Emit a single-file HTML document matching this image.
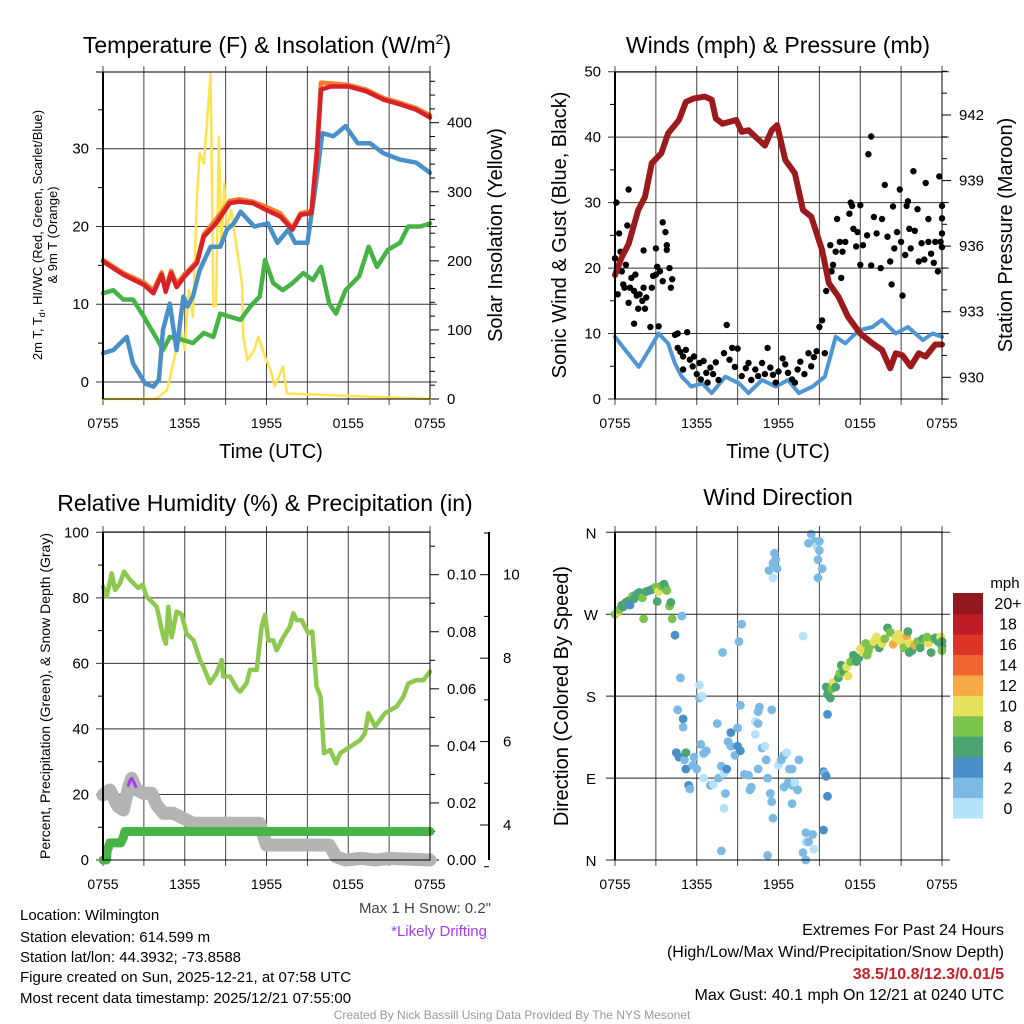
<!DOCTYPE html>
<html><head><meta charset="utf-8">
<style>
html,body{margin:0;padding:0;background:#fff;}
svg{display:block;font-family:"Liberation Sans",Arial,sans-serif;}
</style></head>
<body>
<svg id="chart" width="1024" height="1024" viewBox="0 0 1024 1024" xmlns="http://www.w3.org/2000/svg">
<rect x="0" y="0" width="1024" height="1024" fill="#fff"/>
<text x="267" y="53" font-size="23" text-anchor="middle">Temperature (F) &amp; Insolation (W/m<tspan font-size="14" dy="-9">2</tspan><tspan dy="9">)</tspan></text>
<text x="778" y="53" font-size="23" text-anchor="middle">Winds (mph) &amp; Pressure (mb)</text>
<text x="265" y="511" font-size="23" text-anchor="middle">Relative Humidity (%) &amp; Precipitation (in)</text>
<text x="778" y="505" font-size="23" text-anchor="middle">Wind Direction</text>

<text transform="translate(42,235) rotate(-90)" font-size="13" text-anchor="middle">2m T, T<tspan font-size="9" dy="3">d</tspan><tspan dy="-3">, HI/WC (Red, Green, Scarlet/Blue)</tspan></text>
<text transform="translate(57,235) rotate(-90)" font-size="13" text-anchor="middle">&amp; 9m T (Orange)</text>
<text transform="translate(502,235) rotate(-90)" font-size="20" text-anchor="middle">Solar Insolation (Yellow)</text>
<text transform="translate(566,235) rotate(-90)" font-size="20" text-anchor="middle">Sonic Wind &amp; Gust (Blue, Black)</text>
<text transform="translate(1012,235) rotate(-90)" font-size="20" text-anchor="middle">Station Pressure (Maroon)</text>
<text transform="translate(50,696) rotate(-90)" font-size="14" text-anchor="middle">Percent, Precipitation (Green), &amp; Snow Depth (Gray)</text>
<text transform="translate(568,696) rotate(-90)" font-size="20" text-anchor="middle">Direction (Colored By Speed)</text>
<text x="271" y="458" font-size="20" text-anchor="middle">Time (UTC)</text>
<text x="778" y="458" font-size="20" text-anchor="middle">Time (UTC)</text>

<text x="491" y="913" font-size="15" fill="#444" text-anchor="end">Max 1 H Snow: 0.2"</text>
<text x="487" y="936" font-size="15" fill="#a83cf0" text-anchor="end">*Likely Drifting</text>
<g font-size="15">
<text x="20" y="920">Location: Wilmington</text>
<text x="20" y="942">Station elevation: 614.599 m</text>
<text x="20" y="962">Station lat/lon: 44.3932; -73.8588</text>
<text x="20" y="982">Figure created on Sun, 2025-12-21, at 07:58 UTC</text>
<text x="20" y="1003">Most recent data timestamp: 2025/12/21 07:55:00</text>
</g>
<g font-size="16" text-anchor="end">
<text x="1004" y="935">Extremes For Past 24 Hours</text>
<text x="1004" y="957">(High/Low/Max Wind/Precipitation/Snow Depth)</text>
<text x="1004" y="979" fill="#c8202a" font-weight="bold">38.5/10.8/12.3/0.01/5</text>
<text x="1004" y="1000">Max Gust: 40.1 mph On 12/21 at 0240 UTC</text>
</g>
<text x="512" y="1019" font-size="12" fill="#999" text-anchor="middle">Created By Nick Bassill Using Data Provided By The NYS Mesonet</text>
</svg>
<script>
// ===== Data (hours since 0755 UTC) =====
const xTickLabels = ["0755","1355","1955","0155","0755"];
const redT = [0,1.5,3,3.7,4.3,4.6,5,5.4,6,6.9,7.4,8.3,9.3,10,11,12,13,13.9,14.5,15.3,15.7,16,16.7,18,19.3,20.6,21.8,23,24];
const redV = [15.5,13.8,12.5,11.4,13.8,11.6,14,12.2,13.6,15.3,18.7,20.4,23,23.2,23,22.1,21.3,19.6,21.5,21.7,29.4,37.6,38,38,37.4,36.3,35.7,35,34];
const orangeT = [0,1.5,3,3.7,4.3,4.6,5,5.4,6,6.9,7.4,8.3,9.3,10,11,12,13,13.9,14.5,15.3,15.7,16,16.7,18,19.3,20.6,21.8,23,24];
const orangeV = [15.7,14,12.8,11.8,14.1,12,14.3,12.6,13.9,15.5,19,20.9,23.3,23.5,23.2,22.5,21.7,19.8,21.7,22,30,38.5,38.4,38.2,37.6,36.5,35.9,35.2,34.3];
const blueT = [0,0.75,1.75,2.2,3.1,3.7,4.1,4.4,4.9,5.4,5.9,6.2,6.6,7.1,7.9,8.6,9.1,9.6,10.1,11.1,12.1,12.8,13.6,14.1,15,15.6,16.1,16.9,17.8,18.7,19.6,20.6,21.8,23,24];
const blueV = [3.7,4.1,5.8,2.4,-0.2,-0.6,0.3,6.7,10.1,4.1,11,9.7,11,14.4,17.4,17.4,19.6,20.4,21.9,20,20.4,17.9,19.6,17.9,17.9,25.1,32,31.6,32.9,30.7,30.7,29.4,28.6,28.2,26.9];
const greenT = [0,0.75,1.5,2.2,3,4,4.4,4.9,5.9,6.6,7.4,8.1,8.6,9.3,10.1,10.8,11.5,11.9,12.5,13.2,13.9,14.7,15.4,16,16.6,17.1,17.8,18.8,19.5,20.1,20.9,21.8,22.4,23.3,24];
const greenV = [11.4,11.8,10.6,10.6,8.4,5.4,4.1,5.8,5.4,5,6.3,5.8,8.8,8.4,8,9.7,11,15.7,12.7,11.8,12.7,14,13.1,14.8,10.1,8.8,11.8,13.6,17.4,14.8,17,17.9,20,20,20.4];
const solarT = [0,3.9,4.7,5.2,5.7,6.0,6.3,6.6,6.9,7.1,7.4,7.6,7.9,8.1,8.3,8.5,8.7,8.9,9.1,9.4,9.8,10.2,10.3,10.6,11.1,11.4,11.9,12.3,12.6,12.9,13.2,13.5,24];
const solarV = [0,0,13,56,100,71,158,119,293,356,341,394,471,134,134,380,220,312,245,274,220,167,90,56,71,90,61,42,18,32,47,8,0];
const presT = [0,0.5,1,1.7,2.2,2.7,3.4,3.9,4.7,5.2,5.8,6.6,7.1,7.4,7.9,8.9,9.3,9.8,11,11.5,11.9,12.5,13.2,13.8,14.4,15.2,15.7,16.4,17.1,18,18.9,19.6,20.2,20.6,21.1,21.7,22.3,22.8,23.5,24];
const presV = [934.68,935.5,936.1,937.65,938.26,939.8,940.25,941.16,941.77,942.6,942.76,942.84,942.7,941.84,941.6,941.77,941.23,941.3,940.6,941.3,941.54,939.94,939.33,937.65,937.35,935.82,934.3,933.69,932.77,932.0,931.55,931.25,930.41,931.1,931.0,930.5,931.1,930.95,931.5,931.5];
const windT = [0,0.75,1.75,2.5,3.2,3.9,4.4,4.9,5.6,6.4,7.1,8.1,9.1,9.8,10.8,11.8,12.7,13.5,14.5,15.4,16.2,16.9,17.9,18.9,19.6,20.6,21.5,22.6,23.3,24];
const windV = [9.5,7.5,4.9,7.5,10,8.5,5.4,3.4,1.9,2.4,0.9,3.4,2.4,0.9,2.9,1.9,2.9,0.9,1.9,3.4,9.5,8.5,10.5,11,12.1,10,11,9,10,9.5];
const gustT = [0,0.1,0.2,0.3,0.4,0.5,0.6,0.7,0.8,0.9,1.0,1.0,1.1,1.2,1.4,1.4,1.5,1.6,1.7,1.8,2.0,2.1,2.1,2.2,2.3,2.6,2.7,2.8,3.0,3.0,3.1,3.2,3.3,3.5,3.5,3.7,3.8,3.8,4.0,4.1,4.2,4.4,4.6,4.6,4.8,5.0,5.0,5.2,5.3,5.5,5.7,5.8,6.0,6.2,6.3,6.5,6.7,6.8,7.0,7.2,7.4,7.6,8.0,8.2,8.4,8.6,8.8,9.0,9.3,9.6,9.8,10.0,10.3,10.5,10.8,11.0,11.2,11.4,11.6,11.8,12.0,12.3,12.5,12.7,13.0,13.2,13.4,13.6,13.9,14.2,14.4,14.6,14.8,15.0,15.2,15.4,15.5,15.8,15.9,16.0,16.2,16.3,16.5,16.6,16.7,16.9,17.2,17.3,17.4,17.5,17.7,17.8,18.0,18.0,18.2,18.5,18.6,18.8,18.8,19.0,19.2,19.5,19.6,19.8,20.0,20.2,20.3,20.4,20.5,20.7,20.9,21.0,21.1,21.3,21.4,21.5,21.6,21.7,21.9,22.0,22.2,22.3,22.5,22.7,22.8,23.0,23.0,23.2,23.4,23.5,23.7,23.8,23.9,24.0,24.0,24.0,24.0];
const gustV = [21.5,30,16,25.3,22.5,19.5,17.5,17,20.5,26.5,32,14.7,17,18.5,11.5,16.5,19,15.8,13.8,16,15,17,22.7,13.8,15.5,11,17,18.8,23,19,20.2,11.1,19.5,27,18,25.5,23.5,22.8,20,17,18.3,9.8,10,7.8,7.2,6.5,4.5,7.5,10.2,6,5,6.5,3.8,5.5,3,5.8,4,2.5,4.8,3.8,5.6,2.9,7,11.3,6,7.8,4.9,7.7,3.5,4.7,5.5,2.9,4.5,3.5,5.5,3.8,7.8,4.8,3.7,2.5,4.2,6.2,5.3,4,3,2.5,4.5,5.7,3.8,7,5,6.4,7.3,11,12,7,16.5,23.5,19.5,20.5,22.5,27.5,24,18.5,22.5,24,28.3,30,29.5,26,23.3,25.5,20.5,29.6,23.5,25,37.4,40.1,20.4,27.8,25.3,20,27.5,32.7,24.8,21,17.5,29.4,23,25.5,32,24,15.8,22,29.5,30.2,26,23,34.8,25.7,29,21,23.8,21.3,33,27.5,24,22.2,20.8,24,19.5,34,24,23.2,27.6,25.3,29.5];
const rhT = [0,0.27,0.64,0.88,1.25,1.54,1.98,2.59,2.91,3.2,3.94,4.43,4.62,4.79,5.04,5.4,5.77,6.14,6.64,7.12,7.37,7.85,8.34,8.71,8.83,9.32,9.81,10.06,10.55,10.79,11.28,11.64,11.89,12.13,12.5,12.74,13.23,13.72,13.97,14.21,14.58,14.82,15.07,15.36,15.68,15.97,16.22,16.68,17.11,17.4,18.14,18.87,19.23,19.48,19.97,20.70,21.55,22.04,22.41,23.02,23.51,24];
const rhV = [83.4,80.4,87.5,82.4,84.4,88,85.5,83,84,80.4,77.3,68,66,77.3,68,75.8,75,69,67,61,59,54,57,61,56,56,52.4,51.4,54,58,58,71.2,74.8,67,67,64,68,71.2,75.3,73.2,73.2,71.2,69.2,69.7,52.9,49.8,32.6,33.6,29.5,32.6,34.6,36.6,38.7,44.8,40.7,44.8,46.8,49.8,53.9,54.9,54.9,57.5];
const precipT = [0,0.25,0.3,0.5,1.3,1.5,1.6,24];
const precipV = [0,0,0.003,0.006,0.006,0.008,0.01,0.01];
const snowT = [0,0.5,1.1,1.5,1.86,2.10,2.47,2.96,3.57,3.94,4.43,5.17,6.14,6.6,11.5,12,16.6,17.1,17.8,19,20,21,24];
const snowV = [4.72,4.84,4.44,4.36,4.88,5.12,4.84,4.76,4.76,4.48,4.28,4.28,4.12,4.04,4.04,3.52,3.52,3.24,3.16,3.2,3.16,3.2,3.16];
const driftT = [1.86,2.0,2.10,2.25,2.4];
const driftV = [4.95,5.08,5.12,5.03,4.92];
const dirT = [0,0.2,0.3,0.5,0.6,0.8,1.0,1.1,1.3,1.4,1.6,1.7,1.8,2.0,2.1,2.3,2.5,2.7,2.8,3.0,3.1,3.2,3.4,3.6,3.7,3.8,4.0,4.1,4.2,
 4.9,4.4,4.8,4.6,5.0,5.0,4.5,4.7,5.1,5.2,5.2,5.4,5.5,5.7,5.8,6.0,6.3,6.2,6.2,6.4,6.5,6.5,6.7,7.0,7.2,7.5,7.6,7.8,8.0,8.2,8.1,8.0,7.8,7.9,8.5,8.5,8.3,8.8,9.0,9.0,9.2,9.1,9.2,9.3,9.5,9.8,9.9,10.0,10.3,10.3,10.5,10.6,10.5,10.5,10.8,11.0,11.1,11.2,11.4,11.5,11.6,11.5,11.3,11.6,11.8,11.7,11.9,11.6,11.2,12.0,12.2,12.4,12.6,12.8,13.0,12.4,12.7,13.0,13.2,13.0,13.5,13.4,14.0,13.8,14.0,14.2,14.5,14.6,14.0,13.8,14.2,14.4,14.7,14.8,15.0,14.9,15.0,15.2,14.9,15.3,15.4,15.6,15.3,15.6,15.5,
 15.5,15.6,15.8,15.9,16.0,16.2,16.4,16.5,16.6,16.8,17.0,17.1,17.3,17.5,17.7,17.9,18.0,18.2,18.4,18.5,18.6,18.8,19.0,19.2,19.4,19.6,19.8,20.0,20.2,20.4,20.6,20.8,21.0,21.2,21.4,21.5,21.6,21.8,22.0,22.2,22.4,22.6,22.8,23.0,23.2,23.4,23.5,23.7,23.9,24.0,24.0,24.0,21.6,22.9];
const dirV = [270,272,275,280,278,283,285,280,290,287,292,290,294,288,265,295,296,297,298,300,284,295,301,303,299,296,279,283,265,
 268,247,200,165,155,146,118,113,110,118,100,82,78,104,113,100,127,192,178,180,117,90,120,82,83,150,90,103,95,100,73,57,10,228,140,125,130,115,125,145,120,240,170,259,94,93,77,80,138,152,150,168,163,100,123,125,110,90,73,64,46,165,318,326,330,337,320,310,5,104,110,115,118,100,82,80,85,62,85,100,110,77,30,8,20,20,28,12,0,246,348,358,350,345,350,330,340,320,310,97,95,70,33,160,92,
 190,182,178,188,195,190,200,205,214,207,212,202,218,225,218,222,232,228,238,225,230,236,240,245,233,238,243,255,250,237,244,248,240,233,246,251,238,230,236,240,233,243,240,238,228,243,244,240,245,235,230,240,228,245];
const dirSpeed = [9,10,8,7,6,7,6,5,8,6,5,7,6,8,8,7,6,5,7,8,6,10,8,7,6,8,8,6,8,
 2,4,2,2,4,2,4,4,3,6,4,4,2,2,2,3,2,0,2,0,2,0,2,2,0,2,2,2,0,4,2,0,2,3,4,3,2,2,4,2,4,2,3,2,2,2,2,2,0,1,2,2,2,2,2,0,2,2,2,2,2,2,2,2,2,2,2,0,2,1,2,2,1,2,2,2,2,2,1,2,2,2,2,2,1,3,2,1,2,0,2,2,2,1,2,2,2,2,2,4,2,4,4,4,4,
 7,7,6,8,10,6,6,8,6,7,10,10,8,7,6,7,10,10,9,9,8,9,11,10,7,10,8,6,9,12,10,10,10,8,12,7,10,7,13,9,7,6,8,10,6,8,7,7,10,6,8,7,6,8];
const speedLabels = ["0","2","4","6","8","10","12","14","16","18","20+"];
const speedColors = ["#b5e2f8","#7cb9e4","#4a8fc7","#4aa571","#7cc34c","#e6e15a","#f6a945","#ef6530","#dd3428","#bd1c25","#91181c"];

// ===== Helpers =====
const NS = "http://www.w3.org/2000/svg";
const svg = document.getElementById("chart");
function mk(tag, attrs, parent, name, inter) {
  const el = document.createElementNS(NS, tag);
  for (const k in attrs) el.setAttribute(k, attrs[k]);
  
  
  (parent || svg).appendChild(el);
  return el;
}
function txt(x, y, s, attrs, parent, name) {
  const el = mk("text", Object.assign({x: x, y: y, "font-size": 14}, attrs || {}), parent, name, false);
  el.textContent = s;
  return el;
}
function panel(L, R, T, B) { return {L, R, T, B, x: t => L + t * (R - L) / 24}; }
function linScale(v0, p0, v1, p1) { return v => p0 + (v - v0) * (p1 - p0) / (v1 - v0); }
function drawLine(g, ts, vs, xf, yf, color, w, name) {
  const pts = ts.map((t, i) => xf(t).toFixed(1) + "," + yf(vs[i]).toFixed(1)).join(" ");
  return mk("polyline", {points: pts, fill: "none", stroke: color, "stroke-width": w, "stroke-linejoin": "round", "stroke-linecap": "round"}, g, name, false);
}
function frame(p, g, prefix) {
  // vertical grid & ticks every 3h
  for (let h = 0; h <= 24; h += 3) {
    const x = p.x(h);
    mk("line", {x1: x, y1: p.T - 6, x2: x, y2: p.B + 6, stroke: "#444", "stroke-width": 1}, g, prefix + "-vgrid", false);
  }
  xTickLabels.forEach((s, i) => {
    txt(p.x(i * 6), p.B + 29, s, {"text-anchor": "middle"}, g, prefix + "-x-tick-label");
  });
}
function border(p, g, prefix) {
  mk("rect", {x: p.L, y: p.T, width: p.R - p.L, height: p.B - p.T, fill: "none", stroke: "#000", "stroke-width": 1}, g, prefix + "-plot-border", false);
  mk("line", {x1: p.L, y1: p.T, x2: p.L, y2: p.B, stroke: "#000", "stroke-width": 2}, g, prefix + "-left-axis", false);
}
function leftAxis(p, g, yf, majors, minors, labels, prefix, grid) {
  majors.forEach((v, i) => {
    const y = yf(v);
    mk("line", {x1: grid ? p.L - 7 : p.L - 7, y1: y, x2: grid ? p.R + (grid === 2 ? 7 : 0) : p.L, y2: y, stroke: grid ? "#333" : "#000", "stroke-width": 1}, g, prefix + "-hgrid", false);
    txt(p.L - 14, y + 5, labels[i], {"text-anchor": "end", "font-size": 15}, g, prefix + "-y-tick-label");
  });
  minors.forEach(v => {
    const y = yf(v);
    mk("line", {x1: p.L - 5, y1: y, x2: p.L, y2: y, stroke: "#000", "stroke-width": 1}, g, prefix + "-y-minor-tick", false);
  });
}
function rightAxis(x0, g, yf, majors, minors, labels, prefix, dir) {
  const d = dir || 1;
  majors.forEach((v, i) => {
    const y = yf(v);
    mk("line", {x1: x0 - (d > 0 ? 0 : 0), y1: y, x2: x0 + 9 * d, y2: y, stroke: "#000", "stroke-width": 1}, g, prefix + "-tick", false);
    txt(x0 + 17, y + 5, labels[i], {"text-anchor": "start", "font-size": 15}, g, prefix + "-tick-label");
  });
  minors.forEach(v => {
    const y = yf(v);
    mk("line", {x1: x0, y1: y, x2: x0 + 5 * d, y2: y, stroke: "#000", "stroke-width": 1}, g, prefix + "-minor-tick", false);
  });
}
function range(a, b, s) { const r = []; for (let v = a; v <= b + 1e-9; v += s) r.push(+v.toFixed(4)); return r; }

// ===== Panel 1: Temperature =====
(function () {
  const p = panel(103, 430, 72, 399);
  const g = mk("g", {}, svg, "temperature-panel", false);
  const yT = linScale(0, 382, 30, 148.7);
  const yI = linScale(0, 399, 400, 122.7);
  frame(p, g, "temp");
  leftAxis(p, g, yT, [0, 10, 20, 30], [-0, 5, 15, 25, 35].slice(1), ["0", "10", "20", "30"], "temp", 2);
  mk("line", {x1: p.L - 7, y1: p.T, x2: p.R, y2: p.T, stroke: "#000"}, g, "temp-top-line", false);
  rightAxis(p.R, g, yI, [0, 100, 200, 300, 400], range(20, 460, 20).filter(v => v % 100), ["0", "100", "200", "300", "400"], "insolation-axis");
  drawLine(g, solarT, solarV, p.x, yI, "#fde34f", 2.5, "solar-insolation-line");
  drawLine(g, greenT, greenV, p.x, yT, "#46b445", 4.5, "dewpoint-line");
  drawLine(g, blueT, blueV, p.x, yT, "#4a90c8", 4.5, "wind-chill-line");
  drawLine(g, orangeT, orangeV, p.x, yT, "#f47b2c", 4.5, "temp-9m-line");
  drawLine(g, redT, redV, p.x, yT, "#d7222a", 4.5, "temp-2m-line");
  border(p, g, "temp");
})();

// ===== Panel 2: Winds =====
(function () {
  const p = panel(615, 942, 72, 399);
  const g = mk("g", {}, svg, "winds-panel", false);
  const yW = linScale(0, 399, 50, 71.7);
  const yP = linScale(930, 377.3, 942, 115);
  frame(p, g, "wind");
  leftAxis(p, g, yW, [0, 10, 20, 30, 40, 50], [5, 15, 25, 35, 45], ["0", "10", "20", "30", "40", "50"], "wind", 2);
  rightAxis(p.R, g, yP, [930, 933, 936, 939, 942], range(929, 944, 1).filter(v => (v - 930) % 3), ["930", "933", "936", "939", "942"], "pressure-axis");
  drawLine(g, windT, windV, p.x, yW, "#4f96d3", 4, "sonic-wind-line");
  gustT.forEach((t, i) => {
    mk("circle", {cx: p.x(t).toFixed(1), cy: yW(gustV[i]).toFixed(1), r: 3.2, fill: "#000"}, g, "gust-point", false);
  });
  drawLine(g, presT, presV, p.x, yP, "#9b1a1c", 6, "pressure-line");
  border(p, g, "wind");
})();

// ===== Panel 3: RH / precip / snow =====
(function () {
  const p = panel(103, 430, 532, 860);
  const g = mk("g", {}, svg, "humidity-panel", false);
  const yRH = linScale(0, 860, 100, 532.3);
  const yPr = linScale(0, 860, 0.1, 574.7);
  const yS = linScale(4, 825, 10, 574.7);
  frame(p, g, "rh");
  leftAxis(p, g, yRH, [0, 20, 40, 60, 80, 100], [10, 30, 50, 70, 90], ["0", "20", "40", "60", "80", "100"], "rh", 1);
  rightAxis(p.R, g, yPr, [0, 0.02, 0.04, 0.06, 0.08, 0.1], range(0.01, 0.11, 0.01).filter((v, i) => i % 2 === 0), ["0.00", "0.02", "0.04", "0.06", "0.08", "0.10"], "precip-axis");
  mk("line", {x1: 489, y1: 532, x2: 489, y2: 860, stroke: "#000", "stroke-width": 2}, g, "snow-axis-line", false);
  [4, 6, 8, 10].forEach(v => {
    mk("line", {x1: 480, y1: yS(v), x2: 489, y2: yS(v), stroke: "#000"}, g, "snow-axis-tick", false);
    txt(503, yS(v) + 5, String(v), {"font-size": 15}, g, "snow-axis-tick-label");
  });
  [3, 5, 7, 9, 11].forEach(v => {
    mk("line", {x1: 484, y1: yS(v), x2: 489, y2: yS(v), stroke: "#000"}, g, "snow-axis-minor-tick", false);
  });
  drawLine(g, snowT, snowV, p.x, yS, "#b4b4b4", 13, "snow-depth-line");
  drawLine(g, driftT, driftV, p.x, yS, "#a83cf0", 3, "drifting-segment");
  drawLine(g, precipT, precipV, p.x, yPr, "#48b448", 9, "precipitation-line");
  drawLine(g, rhT, rhV, p.x, yRH, "#8dc84f", 4.5, "relative-humidity-line");
  border(p, g, "rh");
})();

// ===== Panel 4: Wind direction =====
(function () {
  const p = panel(615, 942, 532, 860);
  const g = mk("g", {}, svg, "direction-panel", false);
  const yD = linScale(0, 860, 360, 532.3);
  frame(p, g, "dir");
  const dirLabels = ["N", "E", "S", "W", "N"];
  [0, 90, 180, 270, 360].forEach((v, i) => {
    mk("line", {x1: p.L - 9, y1: yD(v), x2: p.R + 8, y2: yD(v), stroke: "#222"}, g, "dir-hgrid", false);
    txt(591, yD(v) + 6, dirLabels[i], {"text-anchor": "middle", "font-size": 15}, g, "dir-tick-label");
  });
  dirT.forEach((t, i) => {
    const c = speedColors[Math.min(10, Math.floor(dirSpeed[i] / 2))];
    mk("circle", {cx: p.x(t).toFixed(1), cy: yD(dirV[i]).toFixed(1), r: 4.4, fill: c}, g, "direction-point", false);
  });
  border(p, g, "dir");
  const cb = mk("g", {}, svg, "speed-colorbar", false);
  const top = 593, bot = 818, h = (bot - top) / speedColors.length;
  speedColors.forEach((c, i) => {
    const y = bot - (i + 1) * h;
    mk("rect", {x: 953, y: y.toFixed(1), width: 30, height: (h + 0.5).toFixed(1), fill: c}, cb, "colorbar-swatch", false);
    txt(1008, y + h / 2 + 6, speedLabels[i], {"text-anchor": "middle", "font-size": 16}, cb, "colorbar-label");
  });
  txt(1005, 588, "mph", {"text-anchor": "middle", "font-size": 15}, cb, "colorbar-title");
})();
</script>
</body></html>
